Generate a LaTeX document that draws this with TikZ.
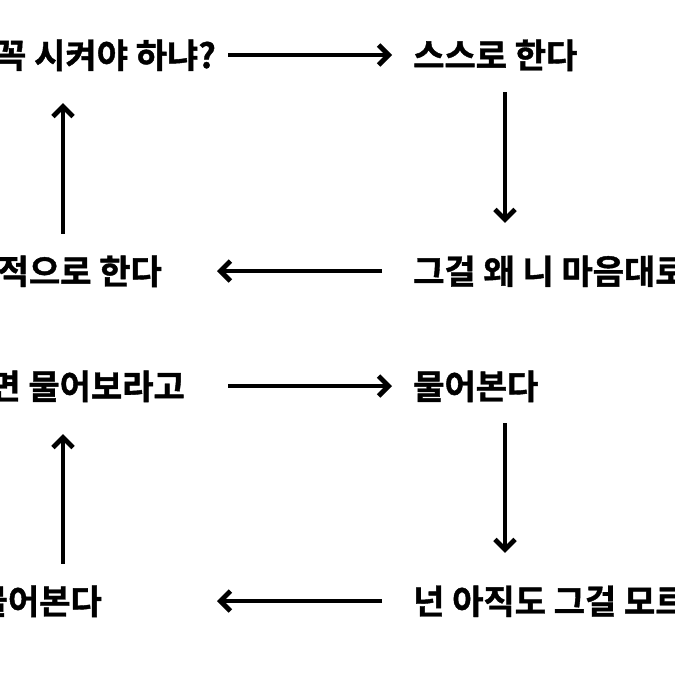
\documentclass[tikz,border=0pt]{standalone}
\usepackage{fontspec}
\newfontfamily\kr[BoldFont={* Bold}, BoldFeatures={FakeBold=1.2}]{Noto Sans CJK KR}
\usetikzlibrary{arrows.meta}
\tikzset{
  step text/.style={font=\kr\bfseries\fontsize{34}{40}\selectfont, inner sep=0pt, text height=30pt, text depth=4pt},
  flow/.style={-{Straight Barb[length=10pt, width=20pt, line width=4.8pt]}, line width=3.8pt},
  down flow/.style={flow, shorten <=20pt, shorten >=31pt}
}
\begin{document}
\begin{tikzpicture}[x=1pt, y=-1pt]
  \useasboundingbox (0,0) rectangle (675,675);
  \clip (0,0) rectangle (675,675);
  % columns for the arrows
  \coordinate (goR) at (228,0);
  \coordinate (tipR) at (392,0);
  \coordinate (goL) at (382,0);
  \coordinate (tipL) at (217,0);
  \coordinate (colL) at (63,0);
  \coordinate (colR) at (505,0);
  % upper loop
  \node[step text, anchor=east] (order) at (216,55) {꼭 시켜야 하냐?};
  \node[step text, anchor=west] (self) at (413,55) {스스로 한다};
  \node[step text, anchor=west] (why) at (413,271) {그걸 왜 니 마음대로};
  \node[step text, anchor=east] (active) at (162,271) {적으로 한다};
  % lower loop
  \node[step text, anchor=east] (askme) at (185,386) {면 물어보라고};
  \node[step text, anchor=west] (asks) at (413,386) {물어본다};
  \node[step text, anchor=west] (still) at (413,601) {넌 아직도 그걸 모르};
  \node[step text, anchor=east] (askagain) at (102,601) {물어본다};
  \draw[flow] (order.east -| goR) -- (self.west -| tipR);
  \draw[down flow] (self.south -| colR) -- (why.north -| colR);
  \draw[flow] (why.west -| goL) -- (active.east -| tipL);
  \draw[down flow] (active.north -| colL) -- (order.south -| colL);
  \draw[flow] (askme.east -| goR) -- (asks.west -| tipR);
  \draw[down flow] (asks.south -| colR) -- (still.north -| colR);
  \draw[flow] (still.west -| goL) -- (askagain.east -| tipL);
  \draw[down flow] (askagain.north -| colL) -- (askme.south -| colL);
\end{tikzpicture}
\end{document}
